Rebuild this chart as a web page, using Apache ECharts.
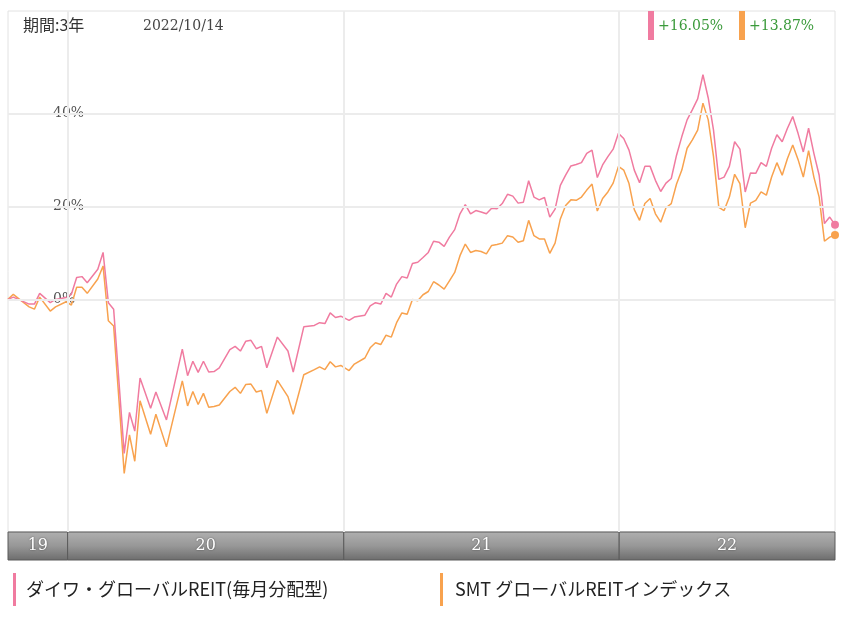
<!DOCTYPE html>
<html>
<head>
<meta charset="utf-8">
<script src="https://cdn.jsdelivr.net/npm/echarts@6/dist/echarts.min.js"></script>
<style>
html,body{margin:0;padding:0;background:#fff;}
#chart{width:842px;height:625px;}
</style>
</head>
<body>
<div id="chart"></div>
<script>
// ---- data ----
const dates = [
'2019-10-14','2019-10-21','2019-11-11','2019-11-18','2019-11-25','2019-12-09','2019-12-16','2019-12-30',
'2020-01-06','2020-01-13','2020-01-20','2020-01-27','2020-02-10','2020-02-17','2020-02-24','2020-03-02',
'2020-03-16','2020-03-23','2020-03-30','2020-04-06','2020-04-20','2020-04-27','2020-05-11','2020-06-01',
'2020-06-08','2020-06-15','2020-06-22','2020-06-29','2020-07-06','2020-07-13','2020-07-20','2020-08-03',
'2020-08-10','2020-08-17','2020-08-24','2020-08-31','2020-09-07','2020-09-14','2020-09-21','2020-10-05',
'2020-10-19','2020-10-26','2020-11-09','2020-11-23','2020-11-30','2020-12-07','2020-12-14','2020-12-21',
'2020-12-28','2021-01-08','2021-01-15','2021-01-29','2021-02-05','2021-02-12','2021-02-19','2021-02-26',
'2021-03-05','2021-03-12','2021-03-19','2021-03-26','2021-04-02','2021-04-09','2021-04-16','2021-04-23',
'2021-04-30','2021-05-07','2021-05-14','2021-05-21','2021-05-28','2021-06-04','2021-06-11','2021-06-18',
'2021-06-25','2021-07-02','2021-07-09','2021-07-16','2021-07-23','2021-07-30','2021-08-06','2021-08-13',
'2021-08-20','2021-08-27','2021-09-03','2021-09-10','2021-09-17','2021-09-24','2021-10-01','2021-10-08',
'2021-10-15','2021-10-22','2021-10-29','2021-11-05','2021-11-12','2021-11-19','2021-11-26','2021-12-03',
'2021-12-10','2021-12-17','2021-12-24','2021-12-31','2022-01-07','2022-01-14','2022-01-21','2022-01-28',
'2022-02-04','2022-02-11','2022-02-18','2022-02-25','2022-03-04','2022-03-11','2022-03-18','2022-03-25',
'2022-04-01','2022-04-08','2022-04-15','2022-04-22','2022-04-29','2022-05-06','2022-05-13','2022-05-20',
'2022-05-27','2022-06-03','2022-06-10','2022-06-17','2022-06-24','2022-07-01','2022-07-08','2022-07-15',
'2022-07-22','2022-07-29','2022-08-05','2022-08-12','2022-08-19','2022-08-26','2022-09-02','2022-09-09',
'2022-09-16','2022-09-23','2022-09-30','2022-10-07','2022-10-14'
];
const daiwa = [
0.0,0.5,-1.0,-1.0,1.3,-0.7,0.0,0.4,
1.1,4.7,4.9,3.6,6.5,10.1,-0.7,-2.1,
-33.1,-24.3,-28.3,-16.9,-23.4,-19.9,-25.9,-10.7,
-16.4,-13.3,-15.7,-13.3,-15.6,-15.5,-14.7,-10.8,
-10.1,-11.1,-9.0,-8.8,-10.6,-10.1,-14.7,-8.1,
-11.1,-15.6,-5.9,-5.6,-5.0,-5.2,-2.9,-3.9,
-3.6,-4.5,-3.8,-3.4,-1.4,-0.7,-1.0,1.3,
0.5,3.3,4.9,4.6,7.7,8.0,9.0,10.1,
12.5,12.3,11.4,13.4,15.0,18.4,20.4,18.4,
19.1,18.8,18.4,19.6,19.5,20.6,22.6,22.2,
20.7,20.9,25.5,22.0,21.4,21.9,17.7,19.4,
24.5,26.7,28.7,29.0,29.4,31.4,32.1,26.2,
28.9,30.7,32.3,35.7,34.6,32.1,27.8,25.1,
28.6,28.6,25.6,23.2,25.0,26.0,31.0,35.0,
38.6,40.8,43.1,48.3,43.3,36.4,25.8,26.3,
28.6,33.9,32.3,23.1,27.2,27.1,29.4,28.6,
32.5,35.4,33.9,36.8,39.3,35.7,31.7,36.8,
31.4,26.7,16.3,17.7,16.05
];
const smt = [
0.0,1.1,-1.6,-2.1,0.5,-2.5,-1.6,-0.5,
-1.2,2.6,2.6,1.3,4.4,7.2,-4.6,-5.7,
-37.4,-29.1,-34.8,-21.8,-29.0,-24.7,-31.7,-17.5,
-22.9,-19.8,-22.6,-20.2,-23.2,-23.0,-22.7,-19.8,
-18.9,-20.2,-18.3,-18.2,-19.9,-19.6,-24.5,-17.4,
-20.9,-24.7,-16.2,-15.1,-14.5,-15.1,-13.4,-14.5,
-14.2,-15.3,-13.9,-12.6,-10.4,-9.3,-9.7,-7.7,
-8.1,-5.0,-2.9,-3.2,0.0,-0.3,1.0,1.7,
3.8,3.1,2.2,4.0,5.8,9.4,11.9,10.1,
10.5,10.3,9.8,11.6,11.8,12.1,13.7,13.4,
12.3,12.6,17.0,13.7,13.0,13.0,9.9,12.1,
17.3,20.2,21.4,21.3,22.0,23.5,24.8,19.0,
21.7,23.1,25.0,28.6,27.8,24.9,19.3,17.0,
20.6,21.7,18.4,16.6,19.7,20.6,24.8,27.8,
32.5,34.3,36.4,42.2,38.6,30.7,19.8,19.1,
22.0,26.9,24.9,15.4,20.7,21.3,23.1,22.4,
26.3,29.4,26.7,30.3,33.2,30.1,26.3,32.0,
26.3,22.0,12.5,13.4,13.87
];
const seriesNames = ['ダイワ・グローバルREIT(毎月分配型)', 'SMT グローバルREITインデックス'];
const rangeStart = '2019-10-14';
const rangeEnd = '2022-10-14';
const yearStarts = ['2020-01-01', '2021-01-01', '2022-01-01'];
const yearBands = [['2019-10-14','2020-01-01'],['2020-01-01','2021-01-01'],['2021-01-01','2022-01-01'],['2022-01-01','2022-10-14']];
const yearLabels = ['19', '20', '21', '22'];
const gridValues = [0, 20, 40];
const periodLabel = '期間:3年';
const dateLabel = '2022/10/14';

// ---- chart ----
const PINK = '#f07ba0';
const ORANGE = '#f8a24e';
const last = dates.length - 1;
const fmtPct = v => (v >= 0 ? '+' : '') + v.toFixed(2) + '%';

const chart = echarts.init(document.getElementById('chart'), null, {renderer: 'canvas'});
chart.setOption({
  animation: false,
  backgroundColor: '#fff',
  grid: [
    {left: 8, right: 7, top: 11, height: 521, show: true, borderColor: '#e2e2e2', borderWidth: 1, backgroundColor: 'transparent'},
    {left: 8, right: 7, top: 532, height: 28, show: false}
  ],
  xAxis: [
    {type: 'time', gridIndex: 0, min: rangeStart, max: rangeEnd, show: false},
    {type: 'time', gridIndex: 1, min: rangeStart, max: rangeEnd, show: false}
  ],
  yAxis: [
    {type: 'value', gridIndex: 0, min: -50, max: 62, interval: 10,
     axisLine: {show: false}, axisTick: {show: false}, splitLine: {show: false},
     axisLabel: {inside: true, margin: 45, color: '#555', fontFamily: 'DejaVu Serif', fontSize: 14,
       formatter: v => gridValues.includes(v) ? v + '%' : ''}},
    {type: 'value', gridIndex: 1, min: 0, max: 1, show: false}
  ],
  legend: [
    {data: [seriesNames[0]], left: 8, top: 568, icon: 'rect', itemWidth: 3, itemHeight: 33, selectedMode: false,
     textStyle: {fontSize: 18, color: '#222', fontFamily: 'Noto Sans CJK JP', padding: [0,0,0,5]}},
    {data: [seriesNames[1]], left: 435, top: 568, icon: 'rect', itemWidth: 3, itemHeight: 33, selectedMode: false,
     textStyle: {fontSize: 18, color: '#222', fontFamily: 'Noto Sans CJK JP', padding: [0,0,0,7]}}
  ],
  graphic: [
    {type: 'text', left: 23, top: 17, style: {text: periodLabel, fill: '#333', font: '16px "Noto Sans CJK JP"'}},
    {type: 'text', left: 143, top: 19, style: {text: dateLabel, fill: '#444', font: '14px "DejaVu Serif"'}},
    {type: 'rect', shape: {x: 648, y: 11, width: 6, height: 29}, style: {fill: PINK}},
    {type: 'text', left: 658, top: 19, style: {text: fmtPct(daiwa[last]), fill: '#3a9a3a', font: '14px "DejaVu Serif"'}},
    {type: 'rect', shape: {x: 739, y: 11, width: 6, height: 29}, style: {fill: ORANGE}},
    {type: 'text', left: 749, top: 19, style: {text: fmtPct(smt[last]), fill: '#3a9a3a', font: '14px "DejaVu Serif"'}}
  ],
  series: [
    { // grid lines
      type: 'line', xAxisIndex: 0, yAxisIndex: 0, z: 1, silent: true,
      data: yearStarts.map(d => [d, 0]), showSymbol: false, lineStyle: {opacity: 0},
      markLine: {
        silent: true, symbol: 'none', label: {show: false},
        lineStyle: {color: '#ececec', width: 2, type: 'solid'},
        data: gridValues.map(v => ({yAxis: v})).concat(yearStarts.map(d => ({xAxis: d})))
      }
    },
    { // year band
      type: 'line', xAxisIndex: 1, yAxisIndex: 1, silent: true,
      data: yearStarts.map(d => [d, 0]), showSymbol: false, lineStyle: {opacity: 0},
      markArea: {
        silent: true,
        itemStyle: {
          color: {type: 'linear', x: 0, y: 0, x2: 0, y2: 1,
            colorStops: [{offset: 0, color: '#b0b0b0'}, {offset: 0.5, color: '#979797'}, {offset: 1, color: '#6c6c6c'}]},
          borderColor: '#5a5a5a', borderWidth: 1
        },
        label: {show: true, position: 'inside', color: '#fff', fontFamily: 'DejaVu Serif', fontSize: 16,
          textShadowColor: 'rgba(0,0,0,0.5)', textShadowBlur: 2},
        data: yearBands.map((b, i) => [{xAxis: b[0], name: yearLabels[i]}, {xAxis: b[1]}])
      }
    },
    {
      name: seriesNames[0], type: 'line', xAxisIndex: 0, yAxisIndex: 0, z: 3,
      color: PINK, data: dates.map((d, i) => [d, daiwa[i]]),
      showSymbol: true, symbol: 'circle',
      symbolSize: (v, p) => p.dataIndex === last ? 8 : 0,
      lineStyle: {width: 1.5, color: PINK}, itemStyle: {color: PINK}
    },
    {
      name: seriesNames[1], type: 'line', xAxisIndex: 0, yAxisIndex: 0, z: 2,
      color: ORANGE, data: dates.map((d, i) => [d, smt[i]]),
      showSymbol: true, symbol: 'circle',
      symbolSize: (v, p) => p.dataIndex === last ? 8 : 0,
      lineStyle: {width: 1.5, color: ORANGE}, itemStyle: {color: ORANGE}
    }
  ]
});
</script>
</body>
</html>
